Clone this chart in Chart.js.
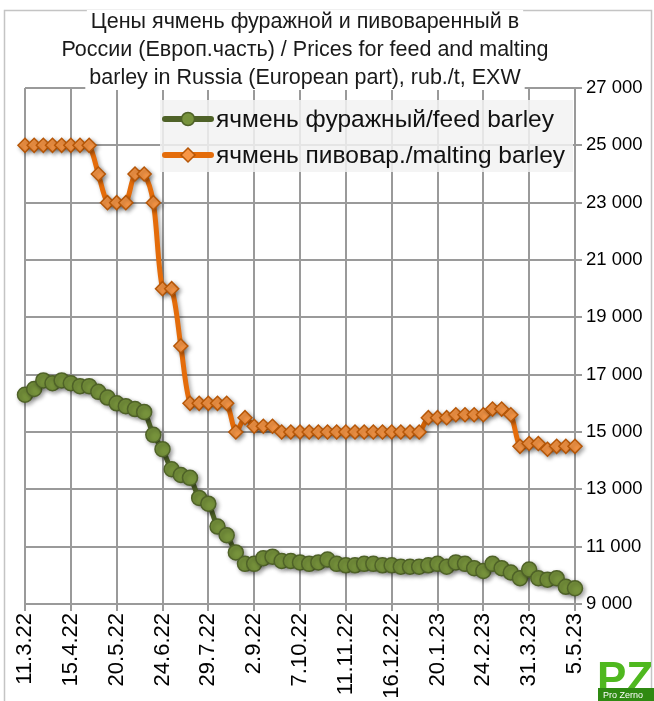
<!DOCTYPE html>
<html>
<head>
<meta charset="utf-8">
<script src="https://cdn.jsdelivr.net/npm/chart.js@4"></script>
<style>
  html, body { margin: 0; padding: 0; background: #fff; }
  #wrap { width: 654px; height: 701px; }
</style>
</head>
<body>
<div id="wrap"><canvas id="myChart" width="654" height="701"></canvas></div>
<script>
// weekly dates, 11.3.22 - 5.5.23
const weeks = [
    '11.3.22', '18.3.22', '25.3.22', '1.4.22', '8.4.22', '15.4.22', '22.4.22', '29.4.22', '6.5.22', '13.5.22',
    '20.5.22', '27.5.22', '3.6.22', '10.6.22', '17.6.22', '24.6.22', '1.7.22', '8.7.22', '15.7.22', '22.7.22',
    '29.7.22', '5.8.22', '12.8.22', '19.8.22', '26.8.22', '2.9.22', '9.9.22', '16.9.22', '23.9.22', '30.9.22',
    '7.10.22', '14.10.22', '21.10.22', '28.10.22', '4.11.22', '11.11.22', '18.11.22', '25.11.22', '2.12.22', '9.12.22',
    '16.12.22', '23.12.22', '30.12.22', '6.1.23', '13.1.23', '20.1.23', '27.1.23', '3.2.23', '10.2.23', '17.2.23',
    '24.2.23', '3.3.23', '10.3.23', '17.3.23', '24.3.23', '31.3.23', '7.4.23', '14.4.23', '21.4.23', '28.4.23',
    '5.5.23'
];

const feedBarley = [
    16300, 16500, 16800, 16700, 16800, 16700, 16600, 16600, 16400, 16200,
    16000, 15900, 15800, 15700, 14900, 14400, 13700, 13500, 13400, 12700,
    12500, 11700, 11400, 10800, 10400, 10400, 10600, 10650, 10500, 10500,
    10450, 10400, 10450, 10550, 10400, 10350, 10350, 10400, 10400, 10350,
    10350, 10300, 10300, 10300, 10350, 10400, 10300, 10450, 10400, 10250,
    10150, 10400, 10250, 10100, 9900, 10200, 9900, 9850, 9900, 9600,
    9550
];

const maltingBarley = [
    25000, 25000, 25000, 25000, 25000, 25000, 25000, 25000, 24000, 23000,
    23000, 23000, 24000, 24000, 23000, 20000, 20000, 18000, 16000, 16000,
    16000, 16000, 16000, 15000, 15500, 15200, 15200, 15200, 15000, 15000,
    15000, 15000, 15000, 15000, 15000, 15000, 15000, 15000, 15000, 15000,
    15000, 15000, 15000, 15000, 15500, 15500, 15500, 15600, 15600, 15600,
    15600, 15800, 15800, 15600, 14500, 14600, 14600, 14400, 14500, 14500,
    14500
];

const titleLines = [
    'Цены ячмень фуражной и пивоваренный в',
    'России (Европ.часть) / Prices for feed and malting',
    'barley in Russia (European part), rub./t, EXW'
];

const FONT = '"Liberation Sans", Arial, sans-serif';
const gridColor = '#9a9a9a';

// frame + white background
const framePlugin = {
    id: 'frame',
    beforeDraw(chart) {
        const c = chart.ctx;
        c.save();
        c.fillStyle = '#fff';
        c.fillRect(0, 0, chart.width, chart.height);
        c.strokeStyle = '#c4c4c4';
        c.lineWidth = 1.5;
        c.strokeRect(4.5, 10.5, 647, 700);
        c.restore();
    }
};

// soft shadow under the markers
const shadowPlugin = {
    id: 'shadow',
    beforeDatasetsDraw(chart) {
        const c = chart.ctx;
        c.save();
        c.shadowColor = 'rgba(0,0,0,0.35)';
        c.shadowBlur = 4;
        c.shadowOffsetX = 2;
        c.shadowOffsetY = 2;
    },
    afterDatasetsDraw(chart) {
        chart.ctx.restore();
    }
};

// title over the top gridline, legend inside the plot, logo
const decorPlugin = {
    id: 'decor',
    afterDraw(chart) {
        const c = chart.ctx;
        const area = chart.chartArea;
        c.save();

        // title
        c.font = '21.5px ' + FONT;
        c.textAlign = 'center';
        c.textBaseline = 'middle';
        const cx = 305;
        titleLines.forEach((t, i) => {
            const y = 22 + i * 28;
            const w = c.measureText(t).width;
            c.fillStyle = '#fff';
            c.fillRect(cx - w / 2 - 4, y - 12, w + 8, 24);
            c.fillStyle = '#1a1a1a';
            c.fillText(t, cx, y);
        });

        // legend
        c.fillStyle = 'rgba(242,242,242,0.85)';
        c.fillRect(160, 100, area.right - 162, 72);
        c.font = '24.5px ' + FONT;
        c.textAlign = 'left';
        chart.data.datasets.forEach((ds, i) => {
            const y = 119 + i * 36;
            c.strokeStyle = ds.borderColor;
            c.lineWidth = 6;
            c.lineCap = 'round';
            c.beginPath();
            c.moveTo(165, y);
            c.lineTo(211, y);
            c.stroke();
            c.fillStyle = ds.pointBackgroundColor;
            c.strokeStyle = ds.pointBorderColor;
            c.lineWidth = 1.5;
            c.beginPath();
            if (ds.pointStyle === 'rectRot') {
                c.moveTo(188, y - 7);
                c.lineTo(195, y);
                c.lineTo(188, y + 7);
                c.lineTo(181, y);
                c.closePath();
            } else {
                c.arc(188, y, 6.5, 0, Math.PI * 2);
            }
            c.fill();
            c.stroke();
            c.fillStyle = '#111';
            c.fillText(ds.label, 216, y + 1);
        });

        // logo
        c.fillStyle = '#4fb81f';
        c.font = 'bold 44px ' + FONT;
        c.textAlign = 'left';
        c.textBaseline = 'alphabetic';
        c.fillText('PZ', 597, 693);
        c.fillStyle = '#2f8a12';
        c.fillRect(598, 688, 56, 13);
        c.fillStyle = '#fff';
        c.font = '9px ' + FONT;
        c.fillText('Pro Zerno', 603, 698);

        c.restore();
    }
};

const ctx = document.getElementById('myChart');

new Chart(ctx, {
    type: 'line',
    data: {
        labels: weeks,
        datasets: [{
            label: 'ячмень фуражный/feed barley',
            data: feedBarley,
            borderColor: '#4f6228',
            borderWidth: 5,
            pointStyle: 'circle',
            pointRadius: 7.5,
            pointBackgroundColor: '#77933c',
            pointBorderColor: '#4f6228',
            pointBorderWidth: 1.5,
            tension: 0.3,
            clip: false
        }, {
            label: 'ячмень пивовар./malting barley',
            data: maltingBarley,
            borderColor: '#e46c0a',
            borderWidth: 5,
            pointStyle: 'rectRot',
            pointRadius: 7,
            pointBackgroundColor: '#f79646',
            pointBorderColor: '#b65708',
            pointBorderWidth: 1.5,
            tension: 0.3,
            clip: false
        }]
    },
    options: {
        responsive: false,
        animation: false,
        layout: {
            padding: { left: 25, right: 0, top: 88, bottom: 0 }
        },
        scales: {
            x: {
                offset: false,
                afterFit: scale => { scale.height = 97; },
                grid: { color: gridColor, lineWidth: 2, tickLength: 7 },
                border: { color: gridColor, width: 2 },
                ticks: {
                    autoSkip: false,
                    minRotation: 90,
                    maxRotation: 90,
                    padding: 2,
                    color: '#000',
                    font: { family: FONT, size: 22 },
                    callback: function (value, index) {
                        return index % 5 === 0 ? weeks[index] : null;
                    }
                }
            },
            y: {
                position: 'right',
                min: 9000,
                max: 27000,
                afterFit: scale => { scale.width = 79; },
                grid: { color: gridColor, lineWidth: 2, tickLength: 7 },
                border: { color: gridColor, width: 2 },
                ticks: {
                    stepSize: 2000,
                    padding: 4,
                    color: '#000',
                    font: { family: FONT, size: 18.5 },
                    callback: function (value) {
                        return String(value).replace(/\B(?=(\d{3})+(?!\d))/g, ' ');
                    }
                }
            }
        },
        plugins: {
            legend: { display: false },
            title: { display: false },
            tooltip: { enabled: false }
        }
    },
    plugins: [framePlugin, shadowPlugin, decorPlugin]
});
</script>
</body>
</html>
